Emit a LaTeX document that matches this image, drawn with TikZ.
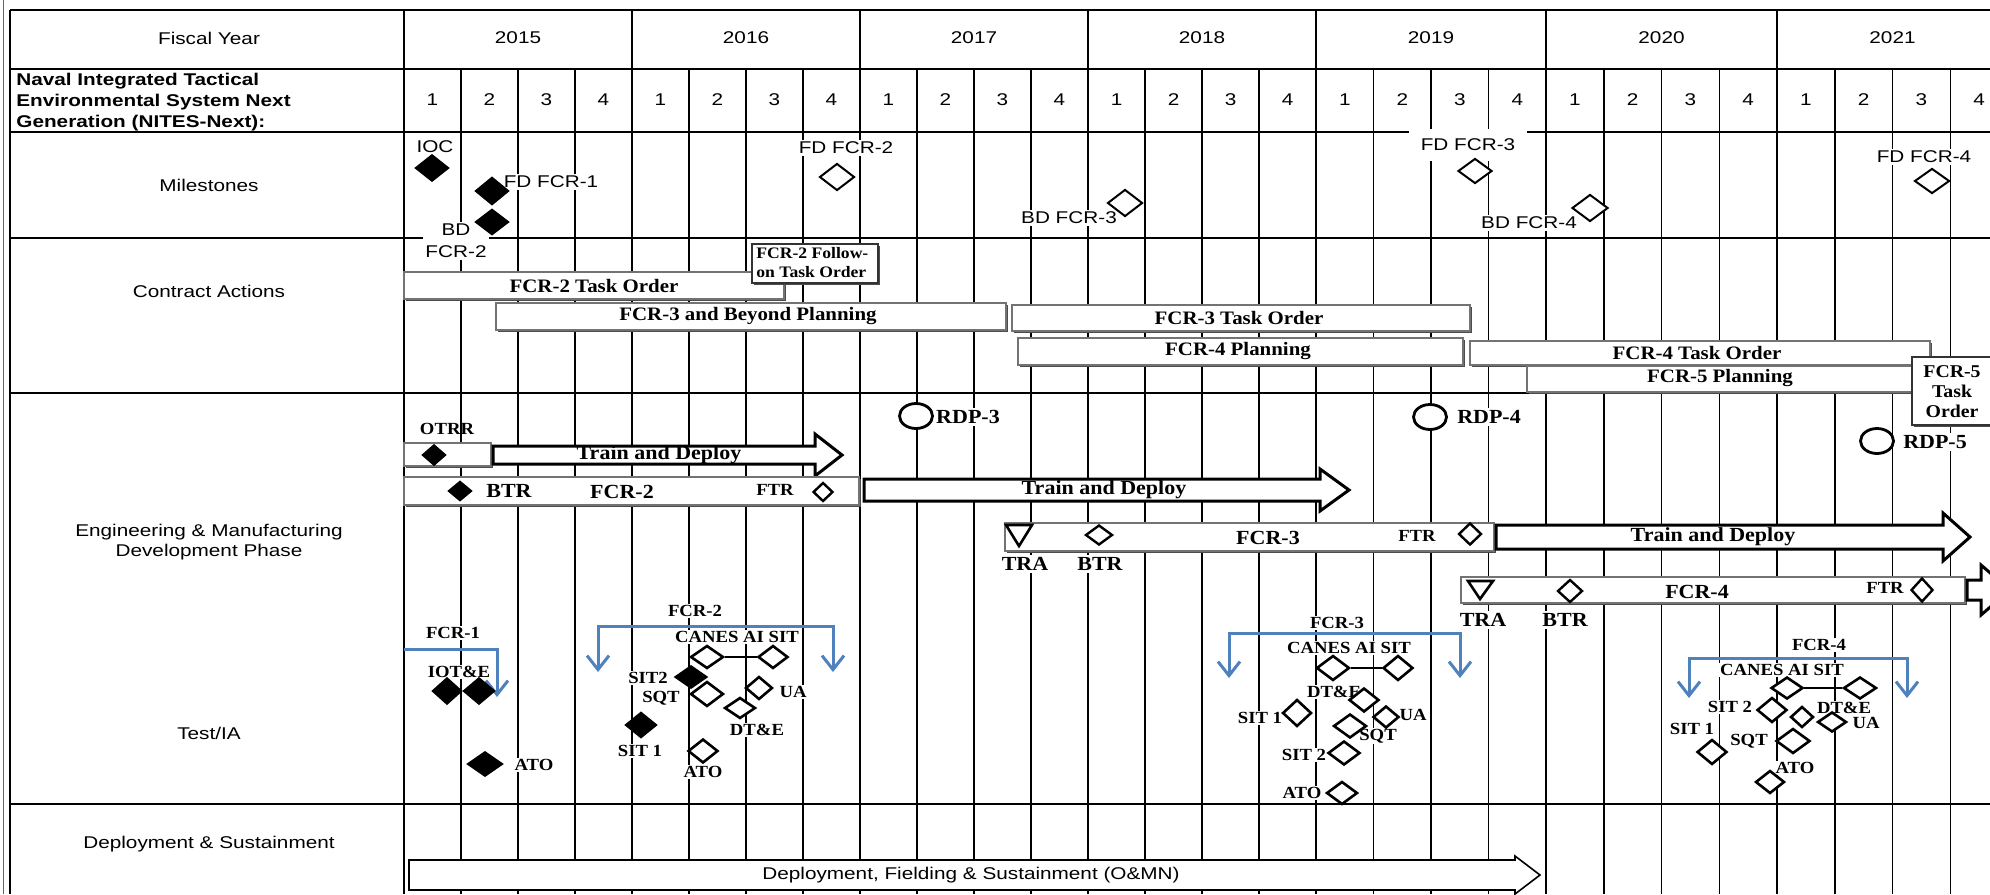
\documentclass[tikz,border=0pt]{standalone}
\usepackage{fontspec}
\setmainfont{Liberation Serif}
\newfontfamily\sanslab[FakeStretch=1.22]{Liberation Sans}
\newfontfamily\serlab[FakeStretch=1.1]{Liberation Serif}
\usetikzlibrary{shapes.geometric,arrows.meta,shadows}
\definecolor{brblue}{RGB}{79,129,189}
\newcommand\blkarrow[7][]{\draw[#1] (#2,{#5-#6}) -- (#3,{#5-#6}) -- (#3,{#5-#7}) -- (#4,#5) -- (#3,{#5+#7}) -- (#3,{#5+#6}) -- (#2,{#5+#6}) -- cycle;}
\tikzset{
 sl/.style={font=\sanslab\fontsize{8.5}{10}\selectfont, inner sep=1pt},
 slb/.style={font=\sanslab\bfseries\fontsize{8.5}{10.5}\selectfont, inner sep=0pt, align=left, anchor=north west},
 ml/.style={sl, fill=white},
 bl/.style={font=\serlab\bfseries\fontsize{9.5}{11}\selectfont, inner sep=1pt},
 el/.style={font=\serlab\bfseries\fontsize{10}{11}\selectfont, inner sep=1pt},
 elw/.style={el, fill=white},
 sm/.style={font=\serlab\bfseries\fontsize{8.5}{10}\selectfont, inner sep=1pt},
 tl/.style={font=\serlab\bfseries\fontsize{8.5}{9}\selectfont, fill=white, inner sep=0.6pt},
 gridv/.style={line width=0.75pt},
 frameline/.style={line width=1pt},
 bar/.style={fill=white, draw=black!55, line width=0.6pt, general shadow={fill=black!70, shadow xshift=1.2pt, shadow yshift=-1.2pt}},
 dm/.style 2 args={diamond, draw, inner sep=0pt, minimum width=#1, minimum height=#2},
 dmf/.style 2 args={dm={#1}{#2}, fill=black, line width=0.6pt},
 dmo/.style 2 args={dm={#1}{#2}, fill=white, line width=1.3pt},
 rdp/.style={ellipse, draw, line width=1.4pt, fill=white, inner sep=0pt, minimum width=16.5pt, minimum height=12.5pt},
 trishape/.style={draw, fill=white, line width=1.3pt, line join=miter},
 tarrow/.style={draw, fill=white, line width=1.5pt, line join=miter},
 brk/.style={draw=brblue, line width=1.5pt, -{Straight Barb[length=7pt,width=11pt]}},
 brkk/.style={draw=brblue, line width=1.5pt, {Straight Barb[length=7pt,width=11pt]}-{Straight Barb[length=7pt,width=11pt]}},
}
\begin{document}
\begin{tikzpicture}[x=0.5pt,y=-0.5pt]
\path[use as bounding box] (0,0) rectangle (1990,894);
\fill[white] (0,0) rectangle (1990,894);
\clip (0,0) rectangle (1990,894);
% ---------- grid ----------
\draw[frameline] (10,10) -- (1990,10);
\foreach \yy in {69,132,238,393,804} \draw[frameline] (10,\yy) -- (1990,\yy);
\draw[frameline] (10,10) -- (10,894);
\draw[line width=0.5pt, black!60] (3,0) -- (3,894);
\foreach \ys/\yw/\yr in {404/228/2015,632/228/2016,860/228/2017,1088/228/2018,1316/230/2019,1546/231/2020,1777/231/2021}{
  \draw[gridv] (\ys,10) -- (\ys,894);
  \node[sl] (y\yr) at ({\ys+\yw/2},38) {\yr};
  \foreach \qq in {1,2,3,4}{
    \node[sl] (q\yr\qq) at ({\ys+(\qq-0.5)*\yw/4},100) {\qq};
  }
  \foreach \qq in {1,2,3}{
    \draw[gridv] ({\ys+\qq*\yw/4},69) -- ({\ys+\qq*\yw/4},894);
  }
}
% ---------- left column ----------
\node[sl] (lfy) at (209,38) {Fiscal Year};
\node[slb] (lnav) at (16,73) {Naval Integrated Tactical\\Environmental System Next\\Generation (NITES-Next):};
\node[sl] (lms) at (209,185) {Milestones};
\node[sl] (lca) at (209,291) {Contract Actions};
\node[sl, align=center] (lemd) at (209,542) {Engineering \& Manufacturing\\Development Phase};
\node[sl] (ltia) at (209,733) {Test/IA};
\node[sl] (lds) at (209,844) {Deployment \& Sustainment};
% ---------- milestones ----------
\node[ml] (lioc) at (435,147) {IOC};
\node[dmf={17pt}{13.5pt}] (mioc) at (432,168) {};
\node[ml] (lfd1) at (551,182) {FD FCR-1};
\node[dmf={17pt}{14pt}] (mfd1) at (492,191) {};
\node[ml, align=center, font=\sanslab\fontsize{8.5}{11}\selectfont] (lbd2) at (456,241) {BD\\FCR-2};
\node[dmf={17pt}{13pt}] (mbd2) at (492,222) {};
\node[ml] (lfd2) at (846,148) {FD FCR-2};
\node[dmo={17.5pt}{13.5pt}, line width=1pt] (mfd2) at (837,177) {};
\node[ml] (lbd3) at (1069,218) {BD FCR-3};
\node[dmo={17.5pt}{13.5pt}, line width=1pt] (mbd3) at (1125,203) {};
\node[ml, inner xsep=6pt, inner ysep=5pt] (lfd3) at (1468,145) {FD FCR-3};
\node[dmo={17pt}{12.5pt}, line width=1pt] (mfd3) at (1475,171) {};
\node[ml] (lbd4) at (1529,223) {BD FCR-4};
\node[dmo={18pt}{13.5pt}, line width=1pt] (mbd4) at (1590,208) {};
\node[ml] (lfd4) at (1924,157) {FD FCR-4};
\node[dmo={17.5pt}{12.5pt}, line width=1pt] (mfd4) at (1932,181) {};
% ---------- contract actions ----------
\path[bar] (404,272) rectangle (784,299);
\node[bl] (ca1) at (594,286) {FCR-2 Task Order};
\path[bar, draw=black!80] (752,244) rectangle (878,283);
\node[font=\serlab\bfseries\fontsize{8}{9.5}\selectfont, align=left, inner sep=0pt, anchor=west] (ca2) at (756,263) {FCR-2 Follow-\\on Task Order};
\path[bar] (496,303) rectangle (1006,330);
\node[bl] (ca3) at (748,316) {FCR-3 and Beyond Planning};
\path[bar] (1012,305) rectangle (1470,331);
\node[bl] (ca4) at (1239,318) {FCR-3 Task Order};
\path[bar] (1018,338) rectangle (1463,365);
\node[bl] (ca5) at (1238,351) {FCR-4 Planning};
\path[bar] (1470,341) rectangle (1930,365);
\node[bl] (ca6) at (1697,353) {FCR-4 Task Order};
\path[bar] (1527,366) rectangle (1918,392);
\node[bl] (ca7) at (1720,378) {FCR-5 Planning};
\path[bar, draw=black!80] (1912,357) rectangle (2000,425);
\node[font=\serlab\bfseries\fontsize{9}{10}\selectfont, align=center, inner sep=0pt] (ca8) at (1952,392) {FCR-5\\Task\\Order};
% ---------- EMD ----------
\node[sm] (lotrr) at (447,429) {OTRR};
\path[bar] (404,443) rectangle (491,466);
\node[dmf={12pt}{10.5pt}] (motrr) at (434,455) {};
\blkarrow[tarrow]{493}{815}{842}{455}{9}{21}
\node[el] (td1) at (659,455) {Train and Deploy};
\path[bar] (404,477) rectangle (859,505);
\node[dmf={12pt}{10pt}] (mbtr2) at (460,491) {};
\node[el] (lbtr2) at (509,491) {BTR};
\node[el] (lfcr2) at (622,492) {FCR-2};
\node[sm] (lftr2) at (775,490) {FTR};
\node[dmo={10pt}{9.5pt}, line width=1.2pt] (mftr2) at (823,492) {};
\blkarrow[tarrow]{864}{1320}{1349}{490}{11}{21}
\node[el] (td2) at (1104,490) {Train and Deploy};
\node[rdp] (r3) at (916,416) {};
\node[elw] (lr3) at (968,417) {RDP-3};
\node[rdp] (r4) at (1430,417) {};
\node[elw] (lr4) at (1489,417) {RDP-4};
\node[rdp] (r5) at (1877,441) {};
\node[elw] (lr5) at (1935,442) {RDP-5};
\path[bar] (1005,523) rectangle (1494,551);
\draw[trishape] (1006,525) -- (1032,525) -- (1019,546) -- cycle;
\node[dmo={13.5pt}{10pt}, line width=1.2pt] (mbtr3) at (1099,535) {};
\node[el] (lfcr3) at (1268,538) {FCR-3};
\node[sm] (lftr3) at (1417,536) {FTR};
\node[dmo={11.5pt}{11pt}, line width=1.2pt] (mftr3) at (1470,534) {};
\node[elw] (ltra3) at (1025,564) {TRA};
\node[elw] (lbtr3) at (1100,564) {BTR};
\blkarrow[tarrow]{1496}{1943}{1970}{537}{12}{24}
\node[el] (td3) at (1713,537) {Train and Deploy};
\path[bar] (1461,577) rectangle (1965,603);
\draw[trishape] (1468,581) -- (1493,581) -- (1480,599) -- cycle;
\node[dmo={12.5pt}{11.5pt}, line width=1.2pt] (mbtr4) at (1570,591) {};
\node[el] (lfcr4) at (1697,592) {FCR-4};
\node[sm] (lftr4) at (1885,588) {FTR};
\node[dmo={11pt}{12pt}, line width=1.2pt] (mftr4) at (1922,590) {};
\node[elw] (ltra4) at (1483,620) {TRA};
\node[elw] (lbtr4) at (1565,620) {BTR};
\blkarrow[tarrow]{1967}{1981}{2010}{590}{10}{25}
% ---------- Test/IA : FCR-1 ----------
\node[tl] (t1l) at (453,633) {FCR-1};
\node[tl] (t1iot) at (459,672) {IOT\&E};
\node[tl] (t1atol) at (534,765) {ATO};
\coordinate (b1a) at (404,649);
\coordinate (b1b) at (497,697);
\draw[brk] (b1a) -| (b1b);
\node[dmf={15pt}{13.5pt}] (t1d1) at (447,691) {};
\node[dmf={16pt}{13.5pt}] (t1d2) at (479,691) {};
\node[dmf={18pt}{12.5pt}] (t1ato) at (485,764) {};
% ---------- Test/IA : FCR-2 ----------
\node[tl] (t2l) at (695,611) {FCR-2};
\node[tl] (t2c) at (737,637) {CANES AI SIT};
\node[tl] (t2sit2l) at (648,678) {SIT2};
\node[tl] (t2sqtl) at (661,698) {SQT};
\node[tl] (t2ual) at (793,692) {UA};
\node[tl] (t2dtl) at (757,730) {DT\&E};
\node[tl] (t2sit1l) at (640,751) {SIT 1};
\node[tl] (t2atol) at (703,772) {ATO};
\coordinate (b2a) at (598,672);
\coordinate (b2t) at (715,626);
\coordinate (b2b) at (833,672);
\draw[brkk] (b2a) |- (b2t) -| (b2b);
\node[dmo={16.5pt}{11.5pt}] (t2can) at (707,657) {};
\node[dmo={15pt}{11.5pt}] (t2ai) at (773,657) {};
\draw[line width=1.3pt] (t2can.east) -- (t2ai.west);
\node[dmf={16.5pt}{11.5pt}] (t2sit2) at (691,677) {};
\node[dmo={16.5pt}{12.5pt}] (t2sqt) at (707,694) {};
\node[dmo={13.5pt}{11.5pt}] (t2ua) at (759,688) {};
\node[dmo={15.5pt}{10.5pt}] (t2dt) at (740,708) {};
\node[dmf={16pt}{13pt}] (t2sit1) at (641,725) {};
\node[dmo={15pt}{12pt}] (t2ato) at (703,751) {};
% ---------- Test/IA : FCR-3 ----------
\node[tl] (t3l) at (1337,623) {FCR-3};
\node[tl] (t3c) at (1349,648) {CANES AI SIT};
\node[tl] (t3dtl) at (1334,692) {DT\&E};
\node[tl] (t3ual) at (1413,715) {UA};
\node[tl] (t3sit1l) at (1260,718) {SIT 1};
\node[tl] (t3sqtl) at (1378,736) {SQT};
\node[tl] (t3sit2l) at (1304,755) {SIT 2};
\node[tl] (t3atol) at (1302,793) {ATO};
\coordinate (b3a) at (1229,678);
\coordinate (b3t) at (1345,633);
\coordinate (b3b) at (1460,678);
\draw[brkk] (b3a) |- (b3t) -| (b3b);
\node[dmo={16.5pt}{12.5pt}] (t3can) at (1333,668) {};
\node[dmo={15pt}{12.5pt}] (t3ai) at (1398,668) {};
\draw[line width=1.3pt] (t3can.east) -- (t3ai.west);
\node[dmo={15pt}{12pt}] (t3dt) at (1364,700) {};
\node[dmo={13pt}{11pt}] (t3ua) at (1386,717) {};
\node[dmo={14.5pt}{13.5pt}] (t3sit1) at (1297,713) {};
\node[dmo={16.5pt}{12pt}] (t3sqt) at (1350,726) {};
\node[dmo={16pt}{12pt}] (t3sit2) at (1344,753) {};
\node[dmo={15.5pt}{11.5pt}] (t3ato) at (1342,793) {};
% ---------- Test/IA : FCR-4 ----------
\node[tl] (t4l) at (1819,645) {FCR-4};
\node[tl] (t4c) at (1782,670) {CANES AI SIT};
\node[tl] (t4sit2l) at (1730,707) {SIT 2};
\node[tl] (t4dtl) at (1844,708) {DT\&E};
\node[tl] (t4ual) at (1866,723) {UA};
\node[tl] (t4sit1l) at (1692,729) {SIT 1};
\node[tl] (t4sqtl) at (1749,741) {SQT};
\node[tl] (t4atol) at (1795,768) {ATO};
\coordinate (b4a) at (1689,698);
\coordinate (b4t) at (1798,658);
\coordinate (b4b) at (1907,698);
\draw[brkk] (b4a) |- (b4t) -| (b4b);
\node[dmo={16pt}{11pt}] (t4can) at (1787,688) {};
\node[dmo={16.5pt}{11pt}] (t4ai) at (1860,688) {};
\draw[line width=1.3pt] (t4can.east) -- (t4ai.west);
\node[dmo={15pt}{12.5pt}] (t4sit2) at (1772,710) {};
\node[dmo={11.5pt}{10.5pt}] (t4dt) at (1802,717) {};
\node[dmo={14.5pt}{10pt}] (t4ua) at (1832,722) {};
\node[dmo={15pt}{12.5pt}] (t4sit1) at (1712,752) {};
\node[dmo={17pt}{12.5pt}] (t4sqt) at (1793,741) {};
\node[dmo={14.5pt}{11.5pt}] (t4ato) at (1770,782) {};
% ---------- deployment ----------
\blkarrow[draw, fill=white, line width=0.8pt]{409}{1515}{1540}{875}{15}{19}
\node[sl] (ldep) at (971,875) {Deployment, Fielding \& Sustainment (O\&MN)};
\end{tikzpicture}
\end{document}
